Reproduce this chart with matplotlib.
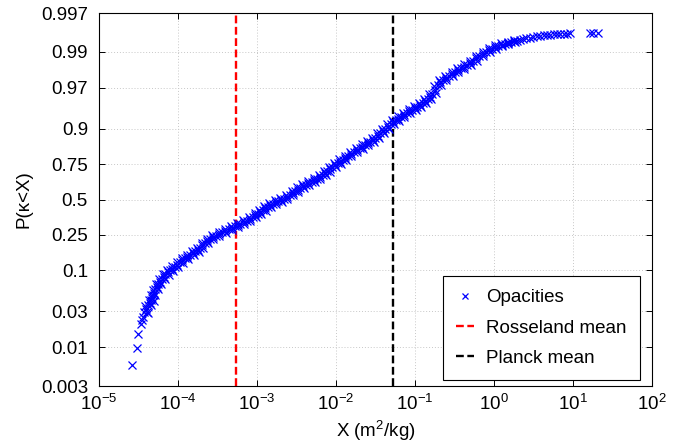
import numpy as np
import matplotlib
matplotlib.use("Agg")
import matplotlib.pyplot as plt
from matplotlib.ticker import NullLocator

plt.rcParams["font.family"] = ["Liberation Sans", "DejaVu Sans"]
plt.rcParams["mathtext.fontset"] = "custom"
plt.rcParams["mathtext.rm"] = "Liberation Sans"
plt.rcParams["mathtext.it"] = "Liberation Sans:italic"
plt.rcParams["mathtext.default"] = "regular"

# Opacity samples (log10 of m^2/kg) with their cumulative probability, stored as log-odds
log10_opacity = [
    -4.582, -4.519, -4.506, -4.468, -4.452, -4.440, -4.376, -4.425, -4.400, -4.376,
    -4.354, -4.340, -4.329, -4.316, -4.304, -4.285, -4.268, -4.250, -4.228, -4.205,
    -4.180, -4.160, -4.130, -4.100, -4.070, -4.040, -4.010, -3.975, -3.945, -3.910,
    -3.880, -3.845, -3.810, -3.780, -3.750, -3.720, -3.690, -3.660, -3.630, -3.595,
    -3.557, -3.520, -3.480, -3.440, -3.400, -3.360, -3.320, -3.280, -3.245, -3.210,
    -3.170, -3.130, -3.090, -3.055, -3.020, -2.990, -2.960, -2.930, -2.900, -2.865,
    -2.835, -2.800, -2.765, -2.730, -2.695, -2.660, -2.620, -2.585, -2.550, -2.520,
    -2.485, -2.450, -2.418, -2.385, -2.350, -2.310, -2.275, -2.240, -2.203, -2.170,
    -2.140, -2.110, -2.080, -2.045, -2.013, -1.980, -1.950, -1.915, -1.880, -1.848,
    -1.810, -1.775, -1.734, -1.700, -1.665, -1.630, -1.600, -1.565, -1.532, -1.500,
    -1.470, -1.440, -1.405, -1.375, -1.340, -1.310, -1.278, -1.245, -1.210, -1.175,
    -1.140, -1.101, -1.070, -1.035, -1.000, -0.970, -0.937, -0.905, -0.875, -0.840,
    -0.810, -0.780, -0.750, -0.715, -0.684, -0.650, -0.610, -0.570, -0.530, -0.494,
    -0.455, -0.420, -0.380, -0.340, -0.304, -0.265, -0.225, -0.185, -0.139, -0.100,
    -0.060, -0.025, 0.013, 0.050, 0.095, 0.135, 0.177, 0.215, 0.255, 0.290,
    0.329, 0.370, 0.410, 0.450, 0.494, 0.540, 0.585, 0.630, 0.671, 0.715,
    0.760, 0.800, 0.835, 0.880, 0.920, 0.962, 1.215, 1.255, 1.316,
]
cdf_log_odds = [
    -5.156, -4.626, -4.190, -3.880, -3.760, -3.660, -3.545, -3.500, -3.400, -3.300,
    -3.220, -3.140, -3.070, -2.980, -2.900, -2.800, -2.720, -2.640, -2.560, -2.480,
    -2.400, -2.330, -2.270, -2.210, -2.150, -2.100, -2.030, -1.960, -1.890, -1.830,
    -1.780, -1.730, -1.670, -1.610, -1.560, -1.510, -1.430, -1.360, -1.290, -1.230,
    -1.170, -1.130, -1.080, -1.020, -0.980, -0.930, -0.880, -0.830, -0.790, -0.750,
    -0.700, -0.655, -0.610, -0.550, -0.490, -0.440, -0.400, -0.340, -0.280, -0.220,
    -0.170, -0.130, -0.090, -0.050, -0.010, 0.030, 0.080, 0.140, 0.200, 0.250,
    0.310, 0.370, 0.420, 0.460, 0.510, 0.560, 0.600, 0.650, 0.700, 0.760,
    0.820, 0.880, 0.940, 1.010, 1.075, 1.130, 1.180, 1.240, 1.300, 1.355,
    1.420, 1.480, 1.540, 1.590, 1.645, 1.700, 1.750, 1.800, 1.855, 1.920,
    1.990, 2.060, 2.130, 2.200, 2.270, 2.340, 2.410, 2.470, 2.520, 2.580,
    2.640, 2.695, 2.740, 2.790, 2.840, 2.890, 2.945, 3.010, 3.070, 3.130,
    3.190, 3.300, 3.420, 3.550, 3.660, 3.720, 3.780, 3.840, 3.910, 3.970,
    4.030, 4.080, 4.140, 4.200, 4.250, 4.320, 4.390, 4.460, 4.530, 4.590,
    4.645, 4.700, 4.750, 4.780, 4.810, 4.845, 4.875, 4.900, 4.925, 4.945,
    4.970, 4.990, 5.015, 5.040, 5.060, 5.080, 5.095, 5.110, 5.125, 5.135,
    5.145, 5.150, 5.156, 5.162, 5.166, 5.171, 5.172, 5.173, 5.174,
]

# Further samples lying in the dense part of the distribution
log10_opacity_dense = [
    -4.388, -4.413, -4.340, -4.372, -4.310, -4.348, -4.285, -4.320, -4.252, -4.284,
    -4.214, -4.242, -4.168, -4.195, -4.120, -4.140, -4.060, -4.080, -4.000, -4.018,
    -3.935, -3.953, -3.870, -3.888, -3.803, -3.820, -3.740, -3.760, -3.680, -3.700,
    -3.620, -3.638, -3.551, -3.564, -3.475, -3.485, -3.395, -3.405, -3.315, -3.325,
    -3.238, -3.253, -3.165, -3.175, -3.085, -3.098, -3.013, -3.030, -2.950, -2.970,
    -2.890, -2.908, -2.825, -2.843, -2.758, -2.773, -2.688, -2.703, -2.615, -2.628,
    -2.543, -2.560, -2.478, -2.493, -2.409, -2.427, -2.343, -2.355, -2.268, -2.283,
    -2.197, -2.212, -2.130, -2.150, -2.070, -2.088, -2.004, -2.022, -1.940, -1.958,
    -1.873, -1.889, -1.804, -1.818, -1.730, -1.742, -1.658, -1.673, -1.590, -1.608,
    -1.524, -1.541, -1.460, -1.480, -1.398, -1.415, -1.333, -1.350, -1.269, -1.287,
    -1.203, -1.218, -1.133, -1.146, -1.061, -1.078, -0.993, -1.010, -0.929, -0.946,
    -0.865, -0.883, -0.800, -0.820, -0.740, -0.758, -0.675, -0.692, -0.605, -0.615,
    -0.525, -0.537, -0.450, -0.463, -0.375, -0.385, -0.297, -0.310, -0.220, -0.230,
    -0.137, -0.145, -0.055, -0.068, 0.019, 0.007, 0.098, 0.090, 0.181, 0.171,
    0.260, 0.248,
]
cdf_log_odds_dense = [
    -3.490, -3.310, -3.300, -3.140, -3.145, -2.985, -2.980, -2.810, -2.800, -2.640,
    -2.640, -2.480, -2.480, -2.325, -2.340, -2.200, -2.220, -2.085, -2.105, -1.955,
    -1.965, -1.820, -1.845, -1.715, -1.740, -1.600, -1.625, -1.495, -1.510, -1.355,
    -1.365, -1.220, -1.240, -1.110, -1.145, -1.010, -1.040, -0.915, -0.945, -0.815,
    -0.850, -0.730, -0.765, -0.638, -0.673, -0.540, -0.560, -0.425, -0.460, -0.330,
    -0.350, -0.210, -0.235, -0.110, -0.150, -0.030, -0.070, 0.050, 0.015, 0.150,
    0.130, 0.265, 0.240, 0.380, 0.355, 0.480, 0.445, 0.575, 0.540, 0.665,
    0.635, 0.770, 0.750, 0.890, 0.870, 1.015, 1.003, 1.143, 1.115, 1.250,
    1.230, 1.368, 1.348, 1.490, 1.470, 1.605, 1.578, 1.713, 1.685, 1.815,
    1.788, 1.928, 1.915, 2.065, 2.055, 2.205, 2.195, 2.345, 2.335, 2.480,
    2.455, 2.590, 2.570, 2.708, 2.678, 2.805, 2.775, 2.905, 2.878, 3.018,
    3.000, 3.140, 3.120, 3.285, 3.320, 3.525, 3.565, 3.730, 3.710, 3.850,
    3.835, 3.980, 3.960, 4.095, 4.070, 4.210, 4.185, 4.325, 4.315, 4.465,
    4.455, 4.600, 4.578, 4.713, 4.685, 4.805, 4.765, 4.858, 4.835, 4.913,
    4.890, 4.960,
]

rosseland_mean = 5.4e-4
planck_mean = 5.3e-2

x_ticks = [1e-5, 1e-4, 1e-3, 1e-2, 1e-1, 1e0, 1e1, 1e2]
y_ticks = [0.003, 0.01, 0.03, 0.1, 0.25, 0.5, 0.75, 0.9, 0.97, 0.99, 0.997]
y_tick_labels = ["0.003", "0.01", "0.03", "0.1", "0.25", "0.5", "0.75", "0.9", "0.97", "0.99", "0.997"]


def to_prob(log_odds):
    return 1.0 / (1.0 + np.exp(-np.asarray(log_odds)))


opacity = 10.0 ** np.concatenate([log10_opacity, log10_opacity_dense])
prob = np.concatenate([to_prob(cdf_log_odds), to_prob(cdf_log_odds_dense)])
order = np.argsort(prob)
opacity, prob = opacity[order], prob[order]

fig = plt.figure(figsize=(6.94, 4.48), dpi=100)
ax = fig.add_axes([99 / 694, 1 - 386 / 448, (652 - 99) / 694, (386 - 13) / 448])

ax.plot(opacity, prob, linestyle="none", marker="x", color="blue",
        markersize=5.6, markeredgewidth=0.9, label="Opacities", zorder=3)
dash = (0, (3.3, 1.5))
ax.axvline(rosseland_mean, color="red", linestyle=dash, linewidth=1.7,
           label="Rosseland mean", zorder=2)
ax.axvline(planck_mean, color="black", linestyle=dash, linewidth=1.7,
           label="Planck mean", zorder=2)

ax.set_xscale("log")
ax.set_yscale("logit")
ax.set_xlim(1e-5, 1e2)
ax.set_ylim(0.003, 0.997)
ax.set_xticks(x_ticks)
ax.xaxis.set_minor_locator(NullLocator())
ax.set_yticks(y_ticks, labels=y_tick_labels)
ax.yaxis.set_minor_locator(NullLocator())

ax.grid(True, which="major", linestyle=(0, (1, 2)), color="#c8c8c8", linewidth=0.7)
ax.tick_params(direction="in", top=True, right=True, length=4, width=0.7,
               labelsize=13.5, colors="black")
ax.tick_params(axis="y", pad=8)
ax.tick_params(axis="x", pad=6)
for s in ax.spines.values():
    s.set_linewidth(0.8)

ax.set_xlabel("X (m$^2$/kg)", fontsize=13.5, labelpad=3)
ax.set_ylabel("P(\u03ba<X)", fontsize=13.5, labelpad=6)

leg = ax.legend(loc="lower right", bbox_to_anchor=((640 - 99) / 553, 6 / 373),
                fontsize=13.5, frameon=True, fancybox=False, markerscale=0.8,
                edgecolor="black", framealpha=1, borderpad=0.7, labelspacing=0.7,
                handlelength=0.95, handletextpad=0.65, borderaxespad=0.0)
leg.get_frame().set_linewidth(0.8)

fig.savefig("out.png", dpi=100)
